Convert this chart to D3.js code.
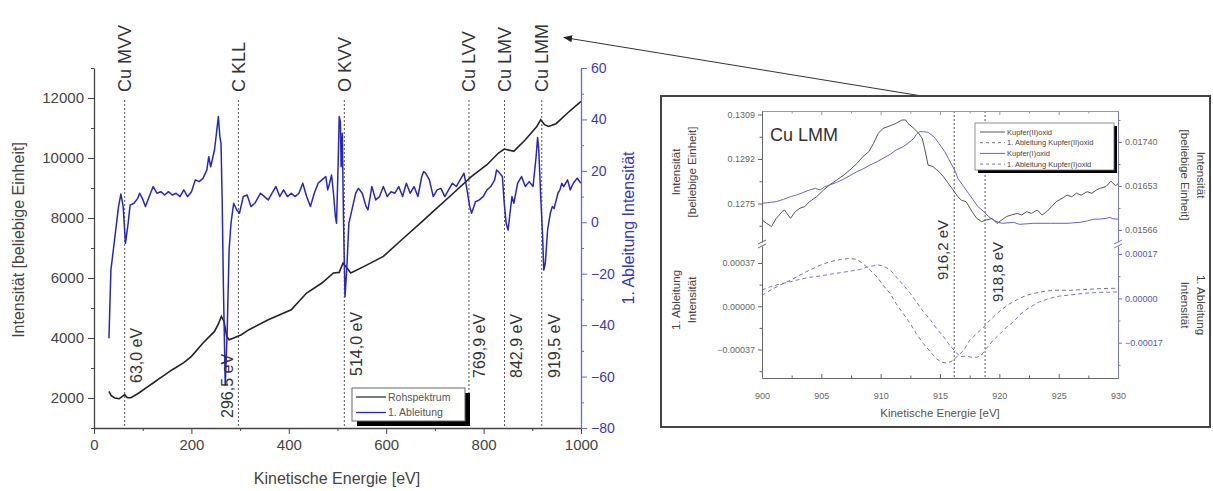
<!DOCTYPE html>
<html>
<head>
<meta charset="utf-8">
<script src="https://cdn.jsdelivr.net/npm/d3@7"></script>
<style>
  body { margin: 0; background: #fff; }
  svg { display: block; }
  text { font-family: "Liberation Sans", Arial, sans-serif; }
</style>
</head>
<body>
<svg id="chart" width="1213" height="491"></svg>
<script>
// ---------- Survey spectrum (0–1000 eV) ----------
const surveyEnergy = [30.7, 35.5, 42.6, 52, 59, 63, 68.6, 75.7, 89.8, 113.5, 121.4, 137.1, 160.8, 184.4, 200.2,
  223.8, 247.4, 255, 261.6, 267, 272.5, 277.4, 286.8, 302.6, 318.3, 357.8, 405, 436.6, 468, 491.7, 503.5,
  511.4, 519.3, 527.2, 554.8, 594.2, 633.6, 673, 696.6, 736, 775.4, 806.9, 830.6, 842.4, 862, 885.7, 909.3,
  917.3, 925.1, 933, 948.8, 972.4, 1000];
const surveyRaw = [2220, 2077, 2000, 1977, 2060, 2110, 2010, 2010, 2143, 2410, 2500, 2677, 2943, 3177, 3387,
  3833, 4220, 4450, 4720, 4553, 4053, 3943, 4000, 4110, 4277, 4610, 4943, 5500, 5833, 6167, 6187,
  6500, 6333, 6167, 6387, 6720, 7300, 7870, 8220, 8800, 9387, 9777, 10167, 10300, 10220, 10610, 11053,
  11277, 11110, 11053, 11143, 11500, 11887];

const derivEnergy = [30.7, 34.7, 42.6, 50.4, 55.2, 59.9, 64.6, 70.1, 74.1, 82.0, 89.8, 93.8, 99.3, 105.6, 113.5,
  121.4, 129.2, 137.1, 145.0, 152.9, 160.8, 168.6, 176.5, 184.4, 192.3, 200.2, 208.0, 215.9, 223.8, 231.7,
  235.6, 239.6, 247.4, 251.4, 255.3, 258.5, 260.8, 263.2, 265.6, 269.5, 273.4, 277.4, 281.3, 286.8, 293.1,
  298.7, 306.5, 314.4, 322.3, 330.2, 342.0, 349.9, 357.8, 365.6, 373.5, 381.4, 389.3, 397.2, 405.0, 412.9,
  420.8, 428.7, 436.6, 444.4, 452.3, 460.2, 468.1, 476.0, 479.9, 483.8, 487.8, 491.7, 495.7, 498.0, 501.2,
  503.5, 505.9, 507.5, 509.9, 512.2, 515.4, 519.3, 523.3, 531.1, 537.4, 543.0, 550.8, 558.7, 562.6, 570.5,
  578.4, 586.3, 594.2, 602.0, 609.9, 617.8, 625.7, 633.6, 641.4, 649.3, 657.2, 665.1, 673.0, 676.9, 680.9,
  688.7, 696.6, 704.5, 712.4, 720.3, 728.1, 736.0, 743.9, 751.8, 759.7, 766.0, 771.5, 775.4, 783.3, 791.2,
  799.1, 806.9, 814.8, 822.7, 826.6, 830.6, 838.5, 842.4, 846.3, 850.3, 854.2, 858.2, 862.1, 870.0, 877.9,
  885.7, 893.6, 901.5, 907.8, 910.9, 913.3, 917.3, 921.2, 923.6, 926.7, 931.4, 937.0, 940.9, 944.8, 952.7,
  956.7, 960.6, 964.5, 972.4, 977.9, 984.2, 992.1, 1000];
const derivValue = [-45.1, -18.6, -6.2, 6.1, 11.0, 6.1, -8.2, -0.4, 6.7, 7.4, 9.3, 11.3, 9.3, 6.1, 10.0,
  13.9, 11.3, 11.9, 10.6, 11.9, 10.6, 11.3, 10.0, 12.6, 10.0, 11.9, 16.5, 15.8, 17.1, 20.3,
  25.5, 21.6, 28.1, 34.6, 41.1, 33.3, 30.7, 8.7, -23.7, -63.4, -43.2, -10.8, -0.4, 7.4, 4.8,
  3.5, 10.0, 10.6, 6.1, 7.4, 11.3, 10.0, 8.7, 11.3, 13.9, 10.0, 12.6, 10.0, 11.3, 10.0,
  11.3, 15.2, 10.0, 6.1, 11.3, 15.2, 16.5, 17.8, 12.6, 15.2, 18.4, 11.3, 2.2, -0.4, 21.6,
  41.1, 39.1, 21.6, 34.6, 2.2, -28.9, -17.3, -0.4, 6.1, 11.3, 13.2, 11.3, 6.1, 4.8, 13.9,
  8.7, 10.0, 13.9, 10.0, 11.9, 11.3, 13.9, 10.0, 15.2, 11.3, 13.9, 10.0, 17.8, 19.7, 19.1,
  16.5, 10.0, 12.6, 13.2, 10.0, 12.6, 15.2, 13.9, 16.5, 19.1, 12.6, 6.1, 3.5, 8.0, 8.7,
  10.0, 12.6, 13.9, 16.5, 20.3, 19.7, 17.8, 7.4, -0.4, -3.0, 3.5, 10.0, 7.4, 15.2, 17.8,
  13.9, 15.8, 13.9, 25.5, 33.0, 28.1, 10.0, -5.6, -18.6, -16.0, -3.0, 3.5, 6.1, 5.4, 11.3,
  12.6, 15.2, 13.9, 16.5, 12.6, 15.2, 17.1, 15.2];

const peakNames = ["Cu MVV", "C KLL", "O KVV", "Cu LVV", "Cu LMV", "Cu LMM"];
const peakEnergy = [63.0, 296.5, 514.0, 769.9, 842.9, 919.5];
const peakEnergyText = ["63,0 eV", "296,5 eV", "514,0 eV", "769,9 eV", "842,9 eV", "919,5 eV"];

const leftTicks = [2000, 4000, 6000, 8000, 10000, 12000];
const rightTicks = [-80, -60, -40, -20, 0, 20, 40, 60];
const energyTicks = [0, 200, 400, 600, 800, 1000];

// ---------- Cu LMM detail (900–930 eV) ----------
const cuIIoxidEnergy = [900.0, 900.4, 900.8, 901.2, 901.7, 901.9, 902.4, 902.8, 903.2, 903.6, 904.0, 904.6,
  905.2, 905.7, 906.3, 906.9, 907.4, 908.0, 908.5, 909.0, 909.4, 909.8, 910.2, 910.8, 911.3, 911.8, 912.1,
  912.3, 912.8, 913.2, 913.5, 913.7, 914.0, 914.4, 914.9, 915.3, 915.7, 916.1, 916.5, 916.8, 917.2, 917.7,
  918.1, 918.5, 918.9, 919.4, 919.8, 920.2, 920.6, 921.0, 921.5, 921.9, 922.3, 922.7, 923.2, 923.6, 924.0,
  924.4, 924.8, 925.3, 925.7, 926.1, 926.5, 926.9, 927.4, 927.8, 928.2, 928.5, 929.0, 929.4, 929.8, 930.0];
const cuIIoxidSignal = [0.12687, 0.12674, 0.12662, 0.12693, 0.12719, 0.12725, 0.12693, 0.12719, 0.12732, 0.12738,
  0.12757, 0.12776, 0.12802, 0.12821, 0.12840, 0.12859, 0.12878, 0.12903, 0.12929, 0.12948, 0.12980, 0.13018,
  0.13037, 0.13047, 0.13056, 0.13069, 0.13069, 0.13056, 0.13037, 0.13018, 0.12999, 0.12961, 0.12897, 0.12891,
  0.12872, 0.12852, 0.12827, 0.12802, 0.12776, 0.12763, 0.12757, 0.12719, 0.12693, 0.12681, 0.12687, 0.12693,
  0.12674, 0.12687, 0.12700, 0.12706, 0.12712, 0.12706, 0.12719, 0.12712, 0.12725, 0.12706, 0.12719, 0.12738,
  0.12757, 0.12770, 0.12782, 0.12776, 0.12789, 0.12782, 0.12795, 0.12789, 0.12802, 0.12808, 0.12815, 0.12835,
  0.12818, 0.12825];

const cuIoxidEnergy = [900.0, 900.7, 901.2, 901.8, 902.4, 902.9, 903.5, 904.0, 904.5, 904.9, 905.3, 905.7,
  906.3, 906.9, 907.4, 908.0, 908.5, 909.1, 909.7, 910.2, 910.8, 911.3, 911.9, 912.3, 912.8, 913.0, 913.3,
  913.6, 914.0, 914.3, 914.6, 914.9, 915.1, 915.4, 915.7, 916.0, 916.3, 916.5, 917.0, 917.4, 917.8, 918.2,
  918.7, 919.1, 919.5, 919.9, 920.3, 921.2, 921.7, 922.9, 924.3, 925.7, 926.8, 927.4, 927.9, 928.5, 929.0,
  929.3, 929.6, 930.0];
const cuIoxidSignal = [0.016187, 0.016207, 0.016220, 0.016266, 0.016319, 0.016352, 0.016405, 0.016451, 0.016484,
  0.016451, 0.016517, 0.016550, 0.016602, 0.016668, 0.016734, 0.016813, 0.016866, 0.016945, 0.017011, 0.017077,
  0.017156, 0.017242, 0.017308, 0.017374, 0.017472, 0.017551, 0.017604, 0.017604, 0.017591, 0.017538, 0.017472,
  0.017374, 0.017308, 0.017209, 0.017077, 0.016945, 0.016813, 0.016682, 0.016517, 0.016385, 0.016253, 0.016121,
  0.016023, 0.015924, 0.015858, 0.015812, 0.015792, 0.015812, 0.015772, 0.015792, 0.015792, 0.015792, 0.015812,
  0.015838, 0.015871, 0.015878, 0.015890, 0.015910, 0.015880, 0.015875];

const cuIIoxidDerivEnergy = [900.0, 900.7, 901.5, 902.4, 903.2, 904.0, 904.9, 905.7, 906.6, 907.4, 908.0, 908.5,
  909.1, 909.7, 910.2, 910.8, 911.3, 911.9, 912.5, 913.0, 913.6, 914.2, 914.7, 915.1, 915.6, 916.0, 916.4,
  917.0, 917.5, 918.1, 918.7, 919.2, 919.8, 920.3, 920.9, 921.5, 922.3, 923.1, 924.0, 924.8, 926.0, 927.1,
  928.5, 930.0];
const cuIIoxidDeriv = [0.0000943, 0.000137, 0.000180, 0.000223, 0.000266, 0.000309, 0.000351, 0.000380, 0.000400,
  0.000409, 0.000400, 0.000366, 0.000309, 0.000251, 0.000180, 0.000109, 0.0000229, -0.0000629, -0.000149,
  -0.000234, -0.000320, -0.000391, -0.000449, -0.000477, -0.000486, -0.000469, -0.000434, -0.000377, -0.000291,
  -0.000234, -0.000177, -0.000120, -0.0000629, -0.0000200, 0.0000229, 0.0000571, 0.0000943, 0.000114, 0.000131,
  0.000137, 0.000137, 0.000143, 0.000151, 0.000154];

const cuIoxidDerivEnergy = [900.0, 900.7, 901.5, 902.4, 903.2, 904.0, 904.9, 905.7, 906.6, 907.4, 908.3, 908.8,
  909.4, 909.8, 910.2, 910.8, 911.3, 911.9, 912.5, 913.0, 913.6, 914.2, 914.7, 915.3, 915.8, 916.3, 916.7,
  917.2, 917.7, 918.1, 918.5, 918.9, 919.5, 920.1, 920.6, 921.2, 921.7, 922.3, 922.9, 923.4, 924.0, 924.6,
  925.1, 926.0, 927.1, 928.5, 930.0];
const cuIoxidDeriv = [0.0000320, 0.0000447, 0.0000550, 0.0000639, 0.0000728, 0.0000805, 0.0000856, 0.0000920,
  0.0000984, 0.000104, 0.000111, 0.000119, 0.000125, 0.000128, 0.000124, 0.000109, 0.0000831, 0.0000511,
  0.0000192, -0.0000128, -0.0000511, -0.0000831, -0.000115, -0.000147, -0.000179, -0.000204, -0.000224,
  -0.000221, -0.000226, -0.000226, -0.000217, -0.000192, -0.000160, -0.000134, -0.000111, -0.0000895,
  -0.0000639, -0.0000422, -0.0000256, -0.0000128, -0.0000038, 0.0000038, 0.0000089, 0.0000128, 0.0000192,
  0.0000230, 0.0000245];

const detailMarkEnergy = [916.2, 918.8];
const detailMarkText = ["916,2 eV", "918,8 eV"];
const detailEnergyTicks = [900, 905, 910, 915, 920, 925, 930];
const detailUpperLeftTicks = [0.1275, 0.1292, 0.1309];
const detailUpperRightTicks = [0.01566, 0.01653, 0.01740];
const detailLowerLeftTicks = [-0.00037, 0, 0.00037];
const detailLowerRightTicks = [-0.00017, 0, 0.00017];
const detailLegend = ["Kupfer(II)oxid", "1. Ableitung Kupfer(II)oxid", "Kupfer(I)oxid", "1. Ableitung Kupfer(I)oxid"];

// ---------- drawing ----------
const svg = d3.select("#chart");
const FONT = '"Liberation Sans", Arial, sans-serif';
const GRAY = "#444";
const BLUE = "#2626c8";
const AXIS_BLUE = "#6666dd";

function styleAxis(g, color, fontSize, width) {
  g.select(".domain").attr("stroke", color).attr("stroke-width", width || 1.3);
  g.selectAll(".tick line").attr("stroke", color).attr("stroke-width", 1);
  g.selectAll(".tick text").attr("fill", color).style("font-size", fontSize + "px").style("font-family", FONT);
  return g;
}
function minorAxis(axisFn, scale, values, size, transform, color) {
  const g = svg.append("g").attr("transform", transform)
    .call(axisFn(scale).tickValues(values).tickSize(size).tickFormat(""));
  g.select(".domain").remove();
  g.selectAll(".tick line").attr("stroke", color);
  return g;
}
const stepRange = (a, b, s) => d3.range(a, b + s / 2, s);

// main scales
const x = d3.scaleLinear().domain([0, 1000]).range([94, 581]);
const yL = d3.scaleLinear().domain([1000, 13000]).range([428, 68]);
const yR = d3.scaleLinear().domain([-80, 60]).range([428, 68]);

// peak marker lines
const peaks = peakEnergy.map((e, i) => ({ e, name: peakNames[i], text: peakEnergyText[i], i }));
svg.append("g").selectAll("line").data(peaks).join("line")
  .attr("x1", d => x(d.e)).attr("x2", d => x(d.e))
  .attr("y1", 100).attr("y2", 428)
  .attr("stroke", "#555").attr("stroke-width", 1).attr("stroke-dasharray", "2,2");

// curves
const rawLine = d3.line().x((d, i) => x(surveyEnergy[i])).y(d => yL(d));
svg.append("path").attr("d", rawLine(surveyRaw))
  .attr("fill", "none").attr("stroke", "#232323").attr("stroke-width", 1.6);
const derivLine = d3.line().x((d, i) => x(derivEnergy[i])).y(d => yR(d));
svg.append("path").attr("d", derivLine(derivValue))
  .attr("fill", "none").attr("stroke", BLUE).attr("stroke-width", 1.5).attr("stroke-linejoin", "round");

// axes
styleAxis(svg.append("g").attr("transform", "translate(94,0)")
  .call(d3.axisLeft(yL).tickValues(leftTicks).tickSize(6).tickSizeOuter(0).tickPadding(4).tickFormat(d3.format("d"))), GRAY, 15);
minorAxis(d3.axisLeft, yL, stepRange(1000, 13000, 1000).filter(v => !leftTicks.includes(v)), 3, "translate(94,0)", GRAY);

styleAxis(svg.append("g").attr("transform", "translate(0,428)")
  .call(d3.axisBottom(x).tickValues(energyTicks).tickSize(6).tickSizeOuter(0).tickPadding(5).tickFormat(d3.format("d"))), GRAY, 15);
minorAxis(d3.axisBottom, x, stepRange(100, 900, 200), 3, "translate(0,428)", GRAY);

styleAxis(svg.append("g").attr("transform", "translate(581,0)")
  .call(d3.axisRight(yR).tickValues(rightTicks).tickSize(6).tickSizeOuter(0).tickPadding(4).tickFormat(d3.format("d"))), AXIS_BLUE, 14)
  .selectAll(".tick text").attr("fill", "#3a3ac0");
minorAxis(d3.axisRight, yR, stepRange(-70, 50, 20), 3, "translate(581,0)", AXIS_BLUE);

// axis titles
svg.append("text").attr("transform", "translate(24,240) rotate(-90)")
  .attr("text-anchor", "middle").attr("fill", GRAY).style("font-size", "16px")
  .text("Intensität [beliebige Einheit]");
svg.append("text").attr("transform", "translate(634,228) rotate(-90)")
  .attr("text-anchor", "middle").attr("fill", "#3434c8").style("font-size", "16px")
  .text("1. Ableitung Intensität");
svg.append("text").attr("x", 337).attr("y", 484)
  .attr("text-anchor", "middle").attr("fill", GRAY).style("font-size", "16px")
  .text("Kinetische Energie [eV]");

// peak names above and energies below
svg.append("g").selectAll("text").data(peaks).join("text")
  .attr("transform", d => `translate(${x(d.e) + 6.5},92) rotate(-90)`)
  .attr("fill", "#333").style("font-size", "18px").text(d => d.name);
const labelShift = [17.5, -5, 17.5, 16, 17.5, 18];
const labelBase = [383, 418, 376, 378, 378, 378];
svg.append("g").selectAll("text").data(peaks).join("text")
  .attr("transform", d => `translate(${x(d.e) + labelShift[d.i]},${labelBase[d.i]}) rotate(-90)`)
  .attr("fill", "#333").style("font-size", "16px").text(d => d.text);

// main legend
const lg = svg.append("g").attr("transform", "translate(352,388)");
lg.append("rect").attr("x", 5).attr("y", 5).attr("width", 113).attr("height", 33).attr("fill", "#000");
lg.append("rect").attr("width", 113).attr("height", 33).attr("fill", "#fff").attr("stroke", "#666").attr("stroke-width", 1);
[["Rohspektrum", "#2b3a2b", 9], ["1. Ableitung", BLUE, 24.5]].forEach(([t, c, yy]) => {
  lg.append("line").attr("x1", 4).attr("x2", 34).attr("y1", yy).attr("y2", yy).attr("stroke", c).attr("stroke-width", 1.3);
  lg.append("text").attr("x", 36).attr("y", yy + 3.5).attr("fill", "#555").style("font-size", "10.5px").text(t);
});

// ---------- detail panel ----------
svg.append("defs").append("marker").attr("id", "arrowHead")
  .attr("viewBox", "0 0 10 10").attr("refX", 9).attr("refY", 5)
  .attr("markerWidth", 9).attr("markerHeight", 9).attr("orient", "auto")
  .append("path").attr("d", "M0,1 L10,5 L0,9 Z").attr("fill", "#222");
svg.append("line").attr("x1", 928).attr("y1", 97).attr("x2", 564).attr("y2", 37.5)
  .attr("stroke", "#333").attr("stroke-width", 1).attr("marker-end", "url(#arrowHead)");
svg.append("rect").attr("x", 661).attr("y", 96).attr("width", 549).attr("height", 331)
  .attr("fill", "#fff").attr("stroke", "#444").attr("stroke-width", 2);

const X0 = 762, X1 = 1118, UT = 111, UB = 242, LT = 246, LB = 378;
const ix = d3.scaleLinear().domain([900, 930]).range([X0, X1]);
function fitted(tickVals, tickPix, top, bottom) {
  const s = d3.scaleLinear().domain([tickVals[0], tickVals[tickVals.length - 1]]).range(tickPix);
  return d3.scaleLinear().domain([s.invert(bottom), s.invert(top)]).range([bottom, top]);
}
const iyUL = fitted(detailUpperLeftTicks, [203.5, 114.5], UT, UB);
const iyUR = fitted(detailUpperRightTicks, [230, 142], UT, UB);
const iyLL = fitted(detailLowerLeftTicks, [349.5, 263], LT, LB);
const iyLR = fitted(detailLowerRightTicks, [342.7, 254], LT, LB);

const defs = svg.select("defs");
defs.append("clipPath").attr("id", "clipUpper").append("rect").attr("x", X0).attr("y", UT).attr("width", X1 - X0).attr("height", UB - UT);
defs.append("clipPath").attr("id", "clipLower").append("rect").attr("x", X0).attr("y", LT).attr("width", X1 - X0).attr("height", LB - LT);

// marker lines
svg.append("g").selectAll("line").data(detailMarkEnergy).join("line")
  .attr("x1", d => ix(d)).attr("x2", d => ix(d)).attr("y1", UT).attr("y2", LB)
  .attr("stroke", "#555").attr("stroke-width", 1).attr("stroke-dasharray", "2,2");

function detailCurve(energy, vals, scale, clip, color, dash, w) {
  const ln = d3.line().x((d, i) => ix(energy[i])).y(d => scale(d));
  const p = svg.append("path").attr("d", ln(vals)).attr("clip-path", `url(#${clip})`)
    .attr("fill", "none").attr("stroke", color).attr("stroke-width", w);
  if (dash) p.attr("stroke-dasharray", dash);
}
detailCurve(cuIIoxidEnergy, cuIIoxidSignal, iyUL, "clipUpper", "#555", null, 1);
detailCurve(cuIoxidEnergy, cuIoxidSignal, iyUR, "clipUpper", "#6464d4", null, 1);
detailCurve(cuIIoxidDerivEnergy, cuIIoxidDeriv, iyLL, "clipLower", "#777", "4,3", 1);
detailCurve(cuIoxidDerivEnergy, cuIoxidDeriv, iyLR, "clipLower", "#7474d6", "4,3", 1);

// detail axes
const DG = "#666";
styleAxis(svg.append("g").attr("transform", `translate(0,${LB})`)
  .call(d3.axisBottom(ix).tickValues(detailEnergyTicks).tickSize(-4).tickSizeOuter(0).tickPadding(15)), DG, 9, 1);
minorAxis(d3.axisBottom, ix, stepRange(902.5, 927.5, 5), -2.5, `translate(0,${LB})`, DG);
const topAx = svg.append("g").attr("transform", `translate(0,${UT})`)
  .call(d3.axisTop(ix).tickValues(detailEnergyTicks).tickSize(-4).tickSizeOuter(0).tickFormat(""));
styleAxis(topAx, "#999", 9, 1);
minorAxis(d3.axisTop, ix, stepRange(902.5, 927.5, 5), -2.5, `translate(0,${UT})`, "#999");

styleAxis(svg.append("g").attr("transform", `translate(${X0},0)`)
  .call(d3.axisLeft(iyUL).tickValues(detailUpperLeftTicks).tickSize(4).tickSizeOuter(0).tickPadding(3).tickFormat(d3.format(".4f"))), DG, 9, 1);
minorAxis(d3.axisLeft, iyUL, [0.12665, 0.12835, 0.13005], 2.5, `translate(${X0},0)`, DG);
styleAxis(svg.append("g").attr("transform", `translate(${X0},0)`)
  .call(d3.axisLeft(iyLL).tickValues(detailLowerLeftTicks).tickSize(4).tickSizeOuter(0).tickPadding(3).tickFormat(d3.format(".5f"))), DG, 9, 1);
minorAxis(d3.axisLeft, iyLL, [-0.000555, -0.000185, 0.000185], 2.5, `translate(${X0},0)`, DG);

styleAxis(svg.append("g").attr("transform", `translate(${X1},0)`)
  .call(d3.axisRight(iyUR).tickValues(detailUpperRightTicks).tickSize(4).tickSizeOuter(0).tickPadding(3).tickFormat(d3.format(".5f"))), "#7777cc", 9, 1)
  .selectAll(".tick text").attr("fill", DG);
minorAxis(d3.axisRight, iyUR, [0.016095, 0.016965, 0.017835], 2.5, `translate(${X1},0)`, "#7777cc");
styleAxis(svg.append("g").attr("transform", `translate(${X1},0)`)
  .call(d3.axisRight(iyLR).tickValues(detailLowerRightTicks).tickSize(4).tickSizeOuter(0).tickPadding(3).tickFormat(d3.format(".5f"))), "#7777cc", 9, 1)
  .selectAll(".tick text").attr("fill", "#5555c4");
minorAxis(d3.axisRight, iyLR, [-0.000255, -0.000085, 0.000085], 2.5, `translate(${X1},0)`, "#7777cc");

// axis break marks
[[X0, DG], [X1, "#7777cc"]].forEach(([bx, c]) => {
  [242, 246].forEach(by => svg.append("line")
    .attr("x1", bx - 4).attr("y1", by + 2).attr("x2", bx + 4).attr("y2", by - 2)
    .attr("stroke", c).attr("stroke-width", 1));
});

// detail labels
svg.append("text").attr("x", 770).attr("y", 141).attr("fill", "#333").style("font-size", "18px").text("Cu LMM");
const markShift = [-6, 17.5];
const markBase = [280, 302];
svg.append("g").selectAll("text").data(detailMarkEnergy).join("text")
  .attr("transform", (d, i) => `translate(${ix(d) + markShift[i]},${markBase[i]}) rotate(-90)`)
  .attr("fill", "#333").style("font-size", "15px").text((d, i) => detailMarkText[i]);

function twoLine(cx, cy, rot, lines, color) {
  const t = svg.append("text").attr("transform", `translate(${cx},${cy}) rotate(${rot})`)
    .attr("text-anchor", "middle").attr("fill", color).style("font-size", "11.5px");
  lines.forEach((s, k) => t.append("tspan").attr("x", 0).attr("dy", k === 0 ? 0 : 16).text(s));
}
twoLine(680, 172, -90, ["Intensität", "[beliebige Einheit]"], "#444");
twoLine(680, 300, -90, ["1. Ableitung", "Intensität"], "#444");
twoLine(1197, 175, 90, ["Intensität", "[beliebige Einheit]"], "#444");
twoLine(1197, 305, 90, ["1. Ableitung", "Intensität"], "#444");
svg.append("text").attr("x", 940).attr("y", 417).attr("text-anchor", "middle")
  .attr("fill", "#555").style("font-size", "11.5px").text("Kinetische Energie [eV]");

// detail legend
const dl = svg.append("g").attr("transform", "translate(975,123)");
dl.append("rect").attr("x", 3).attr("y", 3).attr("width", 139).attr("height", 47).attr("fill", "#000");
dl.append("rect").attr("width", 139).attr("height", 47).attr("fill", "#fff").attr("stroke", "#777").attr("stroke-width", 0.8);
const legendStyle = [["#555", null], ["#777", "3,3"], ["#6464d4", null], ["#7474d6", "3,3"]];
detailLegend.forEach((t, k) => {
  const yy = 9 + k * 10.7;
  const ln = dl.append("line").attr("x1", 5).attr("x2", 30).attr("y1", yy).attr("y2", yy)
    .attr("stroke", legendStyle[k][0]).attr("stroke-width", 1);
  if (legendStyle[k][1]) ln.attr("stroke-dasharray", legendStyle[k][1]);
  dl.append("text").attr("x", 32).attr("y", yy + 2.6).attr("fill", "#444").style("font-size", "7.5px").text(t);
});
</script>
</body>
</html>
